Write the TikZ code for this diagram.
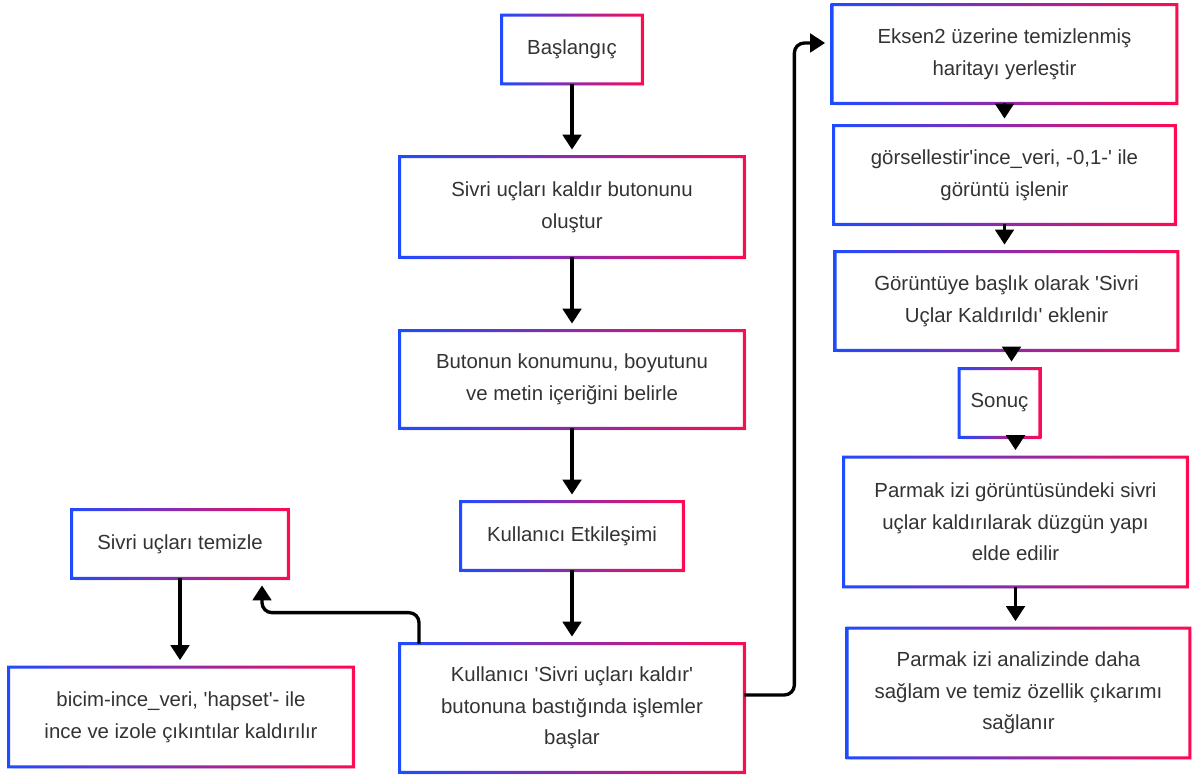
\documentclass[tikz,border=0pt]{standalone}
\usepackage{fontspec}
\setmainfont{Liberation Sans}
\usetikzlibrary{arrows.meta, shadows}
\definecolor{gblue}{HTML}{1F4BFF}
\definecolor{gred}{HTML}{FF0A52}
\definecolor{txtgray}{HTML}{333333}
\newcommand{\q}{\textquotesingle}
\tikzstyle{procbox} = [rectangle, 
minimum width=6.88cm, 
minimum height=1.96cm,
text centered, 
align=center,
fill=white,
text=txtgray,
font=\fontsize{11.6}{18}\selectfont,
drop shadow={opacity=0.12, shadow xshift=1.5pt, shadow yshift=-1.5pt}]
\tikzstyle{smallbox} = [procbox, 
minimum height=1.36cm]
\tikzstyle{tallbox} = [procbox, 
minimum height=2.58cm]
\tikzstyle{arrow} = [line width=1.9pt, -{Triangle[width=10.5pt,length=8.5pt]}, shorten >=4pt]

\begin{document}
\begin{tikzpicture}
		\useasboundingbox (0,0) rectangle (23.88,15.52);
		\node (start) [smallbox, minimum width=2.8cm] at (11.44,14.53) {Başlangıç};
		\node (btn) [procbox, below of=start, node distance=3.15cm, minimum height=2cm] {Sivri uçları kaldır butonunu\\oluştur};
		\node (pos) [procbox, below of=btn, node distance=3.45cm, minimum height=1.94cm] {Butonun konumunu, boyutunu\\ve metin içeriğini belirle};
		\node (etk) [smallbox, below of=pos, node distance=3.13cm, minimum width=4.44cm] {Kullanıcı Etkileşimi};
		\node (bas) [tallbox, below of=etk, node distance=3.44cm, minimum height=2.56cm] {Kullanıcı \q Sivri uçları kaldır\q\\butonuna bastığında işlemler\\başlar};
		\node (tem) [smallbox, left of=etk, node distance=7.84cm, yshift=-0.16cm, minimum width=4.32cm] {Sivri uçları temizle};
		\node (bic) [procbox, below of=tem, node distance=3.46cm, xshift=0.02cm, minimum height=1.98cm] {bicim-ince\_veri, \q hapset\q- ile\\ince ve izole çıkıntılar kaldırılır};
		\node (eks) [procbox, right of=start, node distance=8.65cm, yshift=-0.09cm] {Eksen2 üzerine temizlenmiş\\haritayı yerleştir};
		\node (gor) [procbox, below of=eks, node distance=2.42cm, minimum width=6.82cm] {görsellestir\q ince\_veri, -0,1-\q{} ile\\görüntü işlenir};
		\node (gtu) [procbox, below of=gor, node distance=2.52cm, xshift=0.04cm, minimum width=6.84cm] {Görüntüye başlık olarak \q Sivri\\Uçlar Kaldırıldı\q{} eklenir};
		\node (son) [smallbox, below of=gtu, node distance=2.04cm, xshift=-0.14cm, minimum width=1.6cm] {Sonuç};
		\node (pi1) [tallbox, below of=son, node distance=2.38cm, xshift=0.32cm, minimum width=6.86cm] {Parmak izi görüntüsündeki sivri\\uçlar kaldırılarak düzgün yapı\\elde edilir};
		\node (pi2) [tallbox, below of=pi1, node distance=3.42cm, xshift=0.06cm, minimum width=6.84cm] {Parmak izi analizinde daha\\sağlam ve temiz özellik çıkarımı\\sağlanır};

		% gradient borders
		\foreach \n in {start, btn, pos, etk, bas, tem, bic, eks, gor, gtu, son, pi1, pi2}
			\shade [left color=gblue, right color=gred, even odd rule]
				([shift={(-0.85pt,-0.85pt)}]\n.south west) rectangle ([shift={(0.85pt,0.85pt)}]\n.north east)
				([shift={(0.85pt,0.85pt)}]\n.south west) rectangle ([shift={(-0.85pt,-0.85pt)}]\n.north east);

		\draw [arrow] (start) -- (btn);
		\draw [arrow] (btn) -- (pos);
		\draw [arrow] (pos) -- (etk);
		\draw [arrow] (etk) -- (bas);
		\draw [arrow, rounded corners=0.2cm] ([xshift=-3.06cm]bas.north) -- ++(0,0.62) -| ([xshift=1.64cm]tem.south);
		\draw [arrow] (tem.south) -- (tem.south |- bic.north);
		\draw [arrow, rounded corners=0.2cm] ([yshift=0.26cm]bas.east) -- ++(1.0,0) |- ([yshift=0.22cm]eks.west);
		\draw [arrow] (eks.south) -- (eks.south |- gor.north);
		\draw [arrow] (gor.south) -- (gor.south |- gtu.north);
		\draw [arrow] ([xshift=0.1cm]gtu.south) -- ([xshift=0.1cm]gtu.south |- son.north);
		\draw [arrow] (pi1.north |- son.south) -- (pi1.north);
		\draw [arrow] (pi1.south) -- (pi1.south |- pi2.north);
	\end{tikzpicture}
\end{document}
